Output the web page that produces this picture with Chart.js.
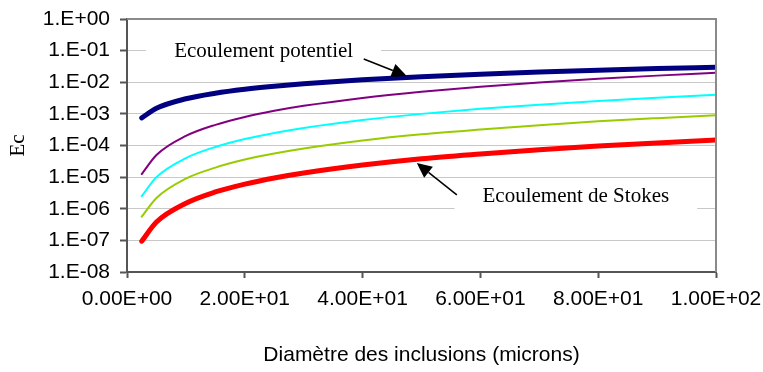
<!DOCTYPE html>
<html>
<head>
<meta charset="utf-8">
<script src="https://cdn.jsdelivr.net/npm/chart.js@4.4.0/dist/chart.umd.min.js"></script>
<style>
  html, body { margin: 0; padding: 0; background: #fff; }
  canvas { display: block; }
</style>
</head>
<body>
<canvas id="ecChart" width="763" height="372"></canvas>
<script>
// Diamètre des inclusions (microns)
const diametres = [2.5, 5, 10, 15, 20, 25, 30, 40, 50, 60, 70, 80, 90, 100];

// Ec, une liste par courbe
const ecPotentiel = [7.5e-4, 1.5e-3, 3.0e-3, 4.5e-3, 6.0e-3, 7.5e-3, 9.0e-3, 1.2e-2, 1.5e-2, 1.8e-2, 2.1e-2, 2.4e-2, 2.7e-2, 3.0e-2];
const ecViolet = [1.25e-5, 5.0e-5, 2.0e-4, 4.5e-4, 8.0e-4, 1.25e-3, 1.8e-3, 3.2e-3, 5.0e-3, 7.2e-3, 9.8e-3, 1.28e-2, 1.62e-2, 2.0e-2];
const ecCyan = [2.5e-6, 1.0e-5, 4.0e-5, 9.0e-5, 1.6e-4, 2.5e-4, 3.6e-4, 6.4e-4, 1.0e-3, 1.44e-3, 1.96e-3, 2.56e-3, 3.24e-3, 4.0e-3];
const ecVert = [5.6e-7, 2.2e-6, 9.0e-6, 2.0e-5, 3.6e-5, 5.6e-5, 8.1e-5, 1.44e-4, 2.25e-4, 3.2e-4, 4.4e-4, 5.8e-4, 7.3e-4, 9.0e-4];
const ecStokes = [9.4e-8, 3.8e-7, 1.5e-6, 3.4e-6, 6.0e-6, 9.4e-6, 1.35e-5, 2.4e-5, 3.8e-5, 5.4e-5, 7.4e-5, 9.6e-5, 1.2e-4, 1.5e-4];

// Graduations
const yTickValues = [1e-8, 1e-7, 1e-6, 1e-5, 1e-4, 1e-3, 1e-2, 1e-1, 1];
const yTickLabels = ["1.E-08", "1.E-07", "1.E-06", "1.E-05", "1.E-04", "1.E-03", "1.E-02", "1.E-01", "1.E+00"];
const xTickLabels = ["0.00E+00", "2.00E+01", "4.00E+01", "6.00E+01", "8.00E+01", "1.00E+02"];

// Annotations (coordonnées en valeurs de données)
const annotations = [
    { text: "Ecoulement potentiel", x: 23.2, y: 0.063, from: [40.2, 0.0543], to: [47.5, 0.0158] },
    { text: "Ecoulement de Stokes", x: 76.2, y: 1.63e-6, from: [56.0, 2.74e-6], to: [49.2, 2.8e-5] }
];

function points(values) {
    return diametres.map((d, i) => ({ x: d, y: values[i] }));
}

function serie(values, color, width) {
    return {
        data: points(values),
        borderColor: color,
        borderWidth: width,
        pointRadius: 0,
        fill: false,
        cubicInterpolationMode: "monotone",
        borderCapStyle: "round",
        borderJoinStyle: "round"
    };
}

// Cadre haut/droite et annotations avec flèches
const annotationPlugin = {
    id: "annotationPlugin",
    beforeDatasetsDraw(chart) {
        const ctx = chart.ctx;
        const xs = chart.scales.x, ys = chart.scales.y;
        ctx.save();
        ctx.font = "21px 'Liberation Serif', 'Times New Roman', serif";
        annotations.forEach(a => {
            const px = xs.getPixelForValue(a.x);
            const py = ys.getPixelForValue(a.y);
            const w = ctx.measureText(a.text).width;
            ctx.fillStyle = "#fff";
            ctx.fillRect(px - w / 2 - 28, py - 24, w + 56, 44);
        });
        ctx.restore();
    },
    afterDatasetsDraw(chart) {
        const ctx = chart.ctx;
        const xs = chart.scales.x, ys = chart.scales.y;
        const area = chart.chartArea;
        ctx.save();
        // bordure haut et droite
        ctx.strokeStyle = "#8a8a8a";
        ctx.lineWidth = 2;
        ctx.beginPath();
        ctx.moveTo(area.left, area.top);
        ctx.lineTo(area.right, area.top);
        ctx.lineTo(area.right, area.bottom);
        ctx.stroke();

        ctx.font = "21px 'Liberation Serif', 'Times New Roman', serif";
        ctx.fillStyle = "#000";
        ctx.textAlign = "center";
        ctx.textBaseline = "alphabetic";
        annotations.forEach(a => {
            ctx.fillText(a.text, xs.getPixelForValue(a.x), ys.getPixelForValue(a.y));
            const x1 = xs.getPixelForValue(a.from[0]), y1 = ys.getPixelForValue(a.from[1]);
            const x2 = xs.getPixelForValue(a.to[0]), y2 = ys.getPixelForValue(a.to[1]);
            const ang = Math.atan2(y2 - y1, x2 - x1);
            const len = 15, half = 7;
            const bx = x2 - len * Math.cos(ang), by = y2 - len * Math.sin(ang);
            ctx.strokeStyle = "#000";
            ctx.lineWidth = 1.5;
            ctx.beginPath();
            ctx.moveTo(x1, y1);
            ctx.lineTo(bx, by);
            ctx.stroke();
            ctx.beginPath();
            ctx.moveTo(x2, y2);
            ctx.lineTo(bx + half * Math.sin(ang), by - half * Math.cos(ang));
            ctx.lineTo(bx - half * Math.sin(ang), by + half * Math.cos(ang));
            ctx.closePath();
            ctx.fill();
        });
        ctx.restore();
    }
};

const ctx = document.getElementById("ecChart").getContext("2d");
const chart = new Chart(ctx, {
    type: "line",
    data: {
        datasets: [
            serie(ecPotentiel, "#000080", 5),
            serie(ecViolet, "#800080", 2),
            serie(ecCyan, "#00ffff", 2),
            serie(ecVert, "#99cc00", 2),
            serie(ecStokes, "#ff0000", 5)
        ]
    },
    options: {
        responsive: false,
        animation: false,
        layout: { padding: { top: 19, right: 47, left: 0, bottom: 0 } },
        plugins: {
            legend: { display: false },
            tooltip: { enabled: false }
        },
        scales: {
            x: {
                type: "linear",
                min: 0,
                max: 100,
                afterFit: scale => {
                    scale.height = 100;
                    scale.paddingLeft = 0;
                    scale.paddingRight = 0;
                },
                afterBuildTicks: scale => {
                    scale.ticks = xTickLabels.map((_, i) => ({ value: i * 20 }));
                },
                ticks: {
                    color: "#000",
                    font: { family: "'Liberation Sans', Arial, sans-serif", size: 21 },
                    padding: 9,
                    maxRotation: 0,
                    callback: (v, i) => xTickLabels[i]
                },
                grid: {
                    drawOnChartArea: false,
                    tickLength: 6,
                    tickColor: "#555",
                    tickWidth: 2
                },
                border: { color: "#555", width: 2 },
                title: {
                    display: true,
                    text: "Diamètre des inclusions (microns)",
                    color: "#000",
                    font: { family: "'Liberation Sans', Arial, sans-serif", size: 21 },
                    padding: { top: 0, bottom: 4 }
                }
            },
            y: {
                type: "logarithmic",
                min: 1e-8,
                max: 1,
                afterFit: scale => {
                    scale.width = 127;
                    scale.paddingTop = 0;
                    scale.paddingBottom = 0;
                },
                afterBuildTicks: scale => {
                    scale.ticks = yTickValues.map(v => ({ value: v }));
                },
                ticks: {
                    color: "#000",
                    font: { family: "'Liberation Sans', Arial, sans-serif", size: 21 },
                    padding: 10,
                    callback: (v, i) => yTickLabels[i]
                },
                grid: {
                    color: "#c8c8c8",
                    lineWidth: 1,
                    tickLength: 7,
                    tickColor: "#555",
                    tickWidth: 2
                },
                border: { color: "#555", width: 2 },
                title: {
                    display: true,
                    text: "Ec",
                    color: "#000",
                    font: { family: "'Liberation Serif', 'Times New Roman', serif", size: 21 },
                    padding: { top: 6, bottom: 0 }
                }
            }
        }
    },
    plugins: [annotationPlugin]
});
</script>
</body>
</html>
